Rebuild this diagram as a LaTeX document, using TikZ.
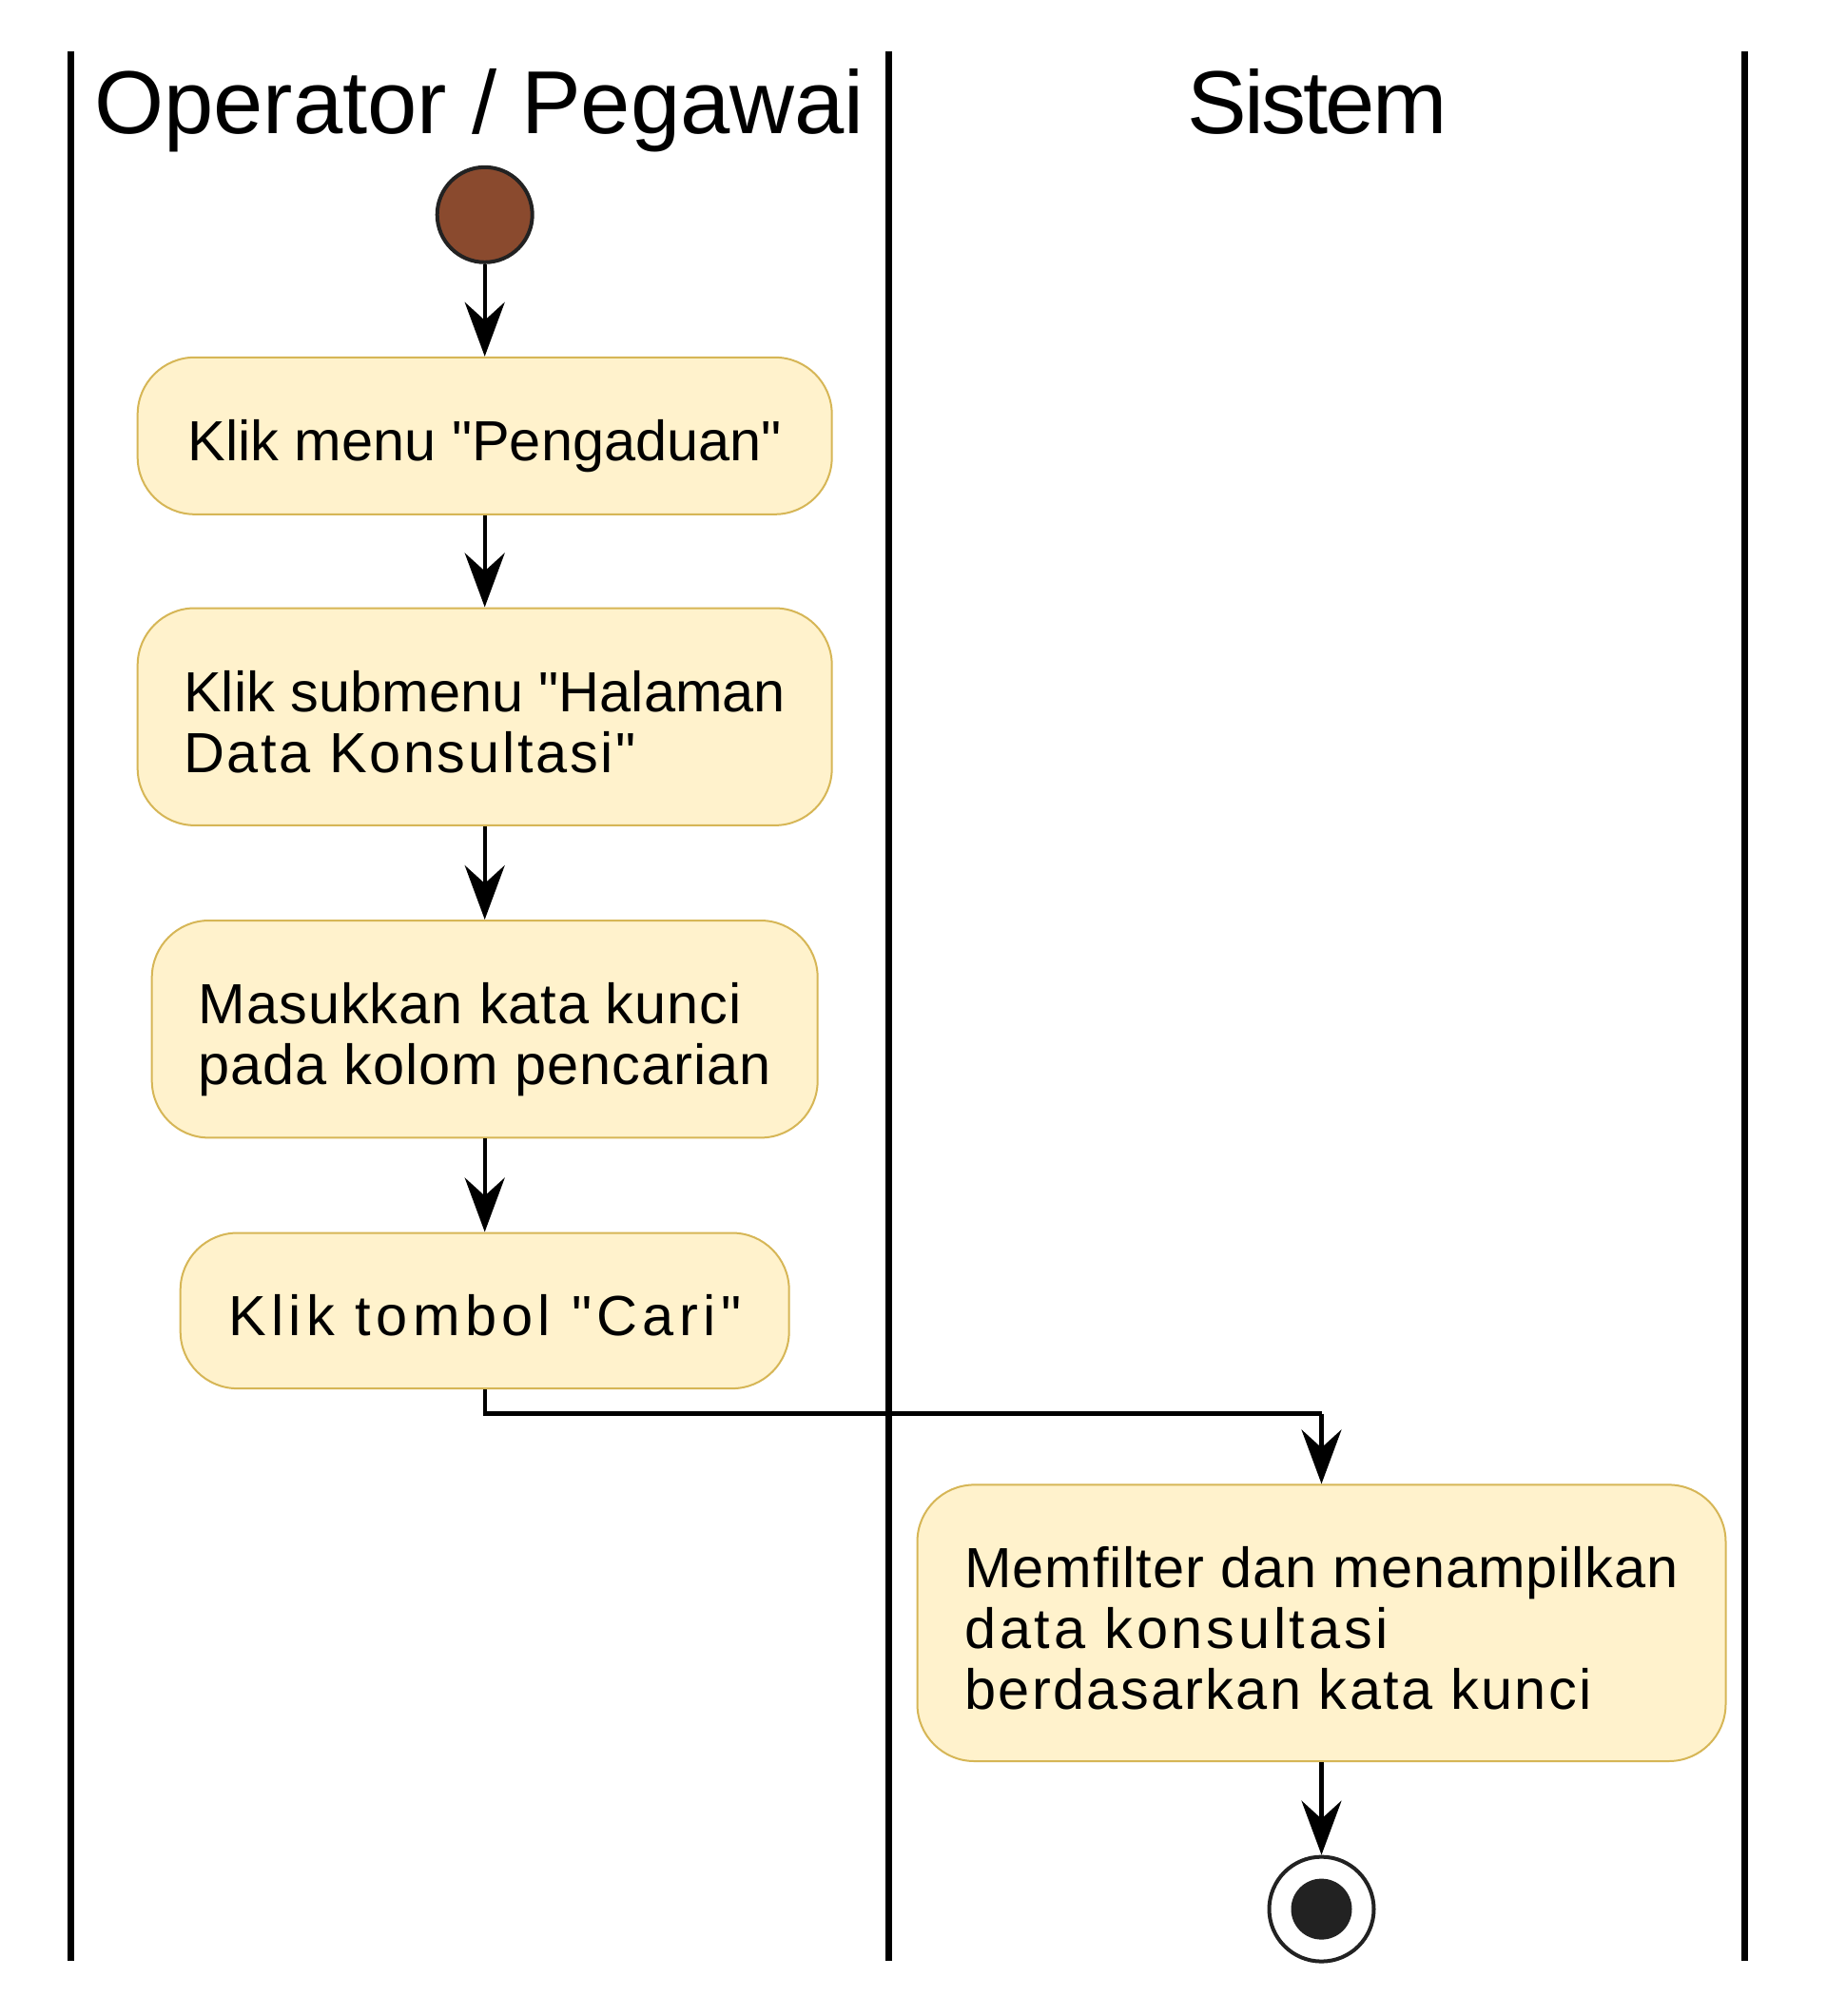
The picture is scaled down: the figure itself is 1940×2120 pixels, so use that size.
\documentclass[tikz,border=0pt]{standalone}
\usepackage{fontspec}
\setmainfont{Liberation Sans}[Ligatures=TeXOff]
\usetikzlibrary{arrows.meta}
\definecolor{boxfill}{HTML}{FFF2CC}
\definecolor{boxline}{HTML}{D6B656}
\definecolor{startfill}{HTML}{8A4A2E}
\definecolor{dark}{HTML}{222222}
\newcommand{\trk}[2]{{\addfontfeature{LetterSpace=#1}#2}}
\newcommand{\tl}[1]{\rule[-1.7pt]{0pt}{29.7pt}\smash{#1}}
\tikzset{
  lane/.style={line width=3.4pt, black},
  actbox/.style={draw=boxline, fill=boxfill, line width=1pt, rounded corners=30pt,
     align=left, inner sep=0pt, font=\fontsize{29.75pt}{32pt}\selectfont},
  flow/.style={line width=2.1pt, black, -{Stealth[length=28.5pt, width=21pt, inset=9.5pt]}},
  flowline/.style={line width=2.1pt, black},
  lanetitle/.style={font=\fontsize{47pt}{50pt}\selectfont, anchor=base, inner sep=0pt},
}
\begin{document}
\begin{tikzpicture}[x=0.5pt, y=-0.5pt]
\useasboundingbox (0,0) rectangle (1940,2120);
% swimlanes
\draw[lane] (74.4,54) -- (74.4,2062);
\draw[lane] (934.5,54) -- (934.5,2062);
\draw[lane] (1834.5,54) -- (1834.5,2062);
\node[lanetitle] (t1) at (504,140) {Operator / Pegawai};
\node[lanetitle] (t2) at (1385,140) {\trk{-3}{Sistem}};
% start
\node[circle, draw=dark, line width=2pt, fill=startfill, minimum size=50pt, inner sep=0pt] (start) at (509.7,225.8) {};
% activities
\node[actbox, minimum width=365pt, minimum height=82.5pt] (b1) at (509.7,458.3) {\tl{Klik menu "Pengaduan"}};
\node[actbox, minimum width=365pt, minimum height=114.2pt] (b2) at (509.7,753.7) {\tl{Klik submenu "Halaman}\\\tl{\trk{4.5}{Data Konsultasi"}}};
\node[actbox, minimum width=350pt, minimum height=114.2pt] (b3) at (509.7,1082.2) {\tl{\trk{1.6}{Masukkan kata kunci}}\\\tl{\trk{1.6}{pada kolom pencarian}}};
\node[actbox, minimum width=320pt, minimum height=81.8pt] (b4) at (509.7,1378.3) {\tl{\trk{9}{Klik tombol "Cari"}}};
\node[actbox, minimum width=425pt, minimum height=145.3pt] (b5) at (1389.5,1706.7) {\tl{\trk{1.5}{Memfilter dan menampilkan}}\\\tl{\trk{6.3}{data konsultasi}}\\\tl{\trk{3.9}{berdasarkan kata kunci}}};
% end
\node[circle, draw=dark, line width=2pt, fill=white, minimum size=55pt, inner sep=0pt] (end) at (1389.5,2007.6) {};
\node[circle, fill=dark, minimum size=32pt, inner sep=0pt] (endin) at (end.center) {};
% connectors
\coordinate (elbow) at (1389.5,1486.5);
\draw[flow] (start) -- (b1);
\draw[flow] (b1) -- (b2);
\draw[flow] (b2) -- (b3);
\draw[flow] (b3) -- (b4);
\draw[flowline] (b4.south) -- (b4.south |- elbow) -- (elbow);
\draw[flow] (elbow) -- (b5.north);
\draw[flow] (b5) -- (end);
\end{tikzpicture}
\end{document}
